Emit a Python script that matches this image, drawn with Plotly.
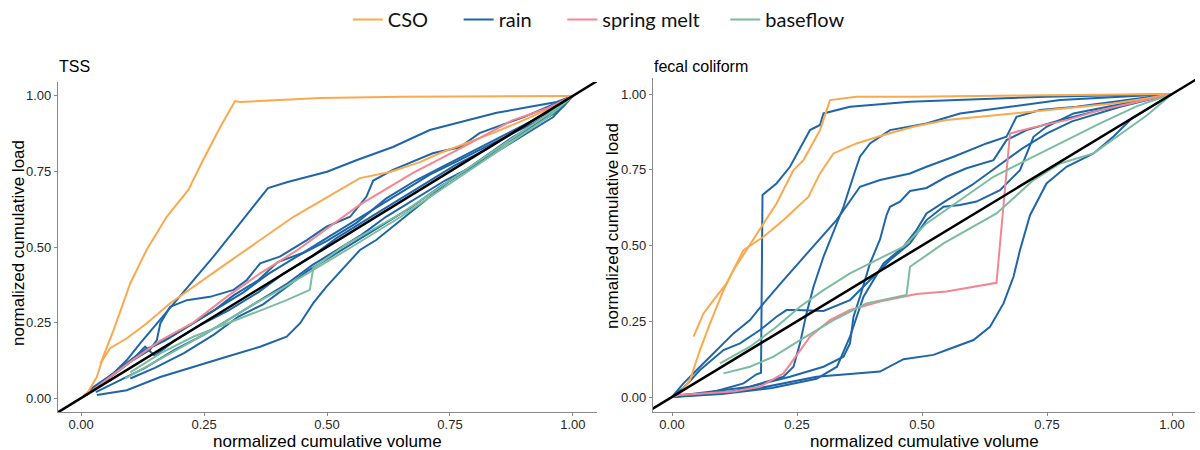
import plotly.graph_objects as go

# ---------------- colours ----------------
COL_CSO = "#FBA94F"
COL_RAIN = "#1F66A8"
COL_MELT = "#F3868E"
COL_BASE = "#7BBC9F"

# legend labels (non-breaking spaces only widen the legend entries)
NBSP = "\u00a0"
LEG_CSO = "CSO" + NBSP * 5
LEG_RAIN = "rain" + NBSP * 5
LEG_MELT = "spring melt" + NBSP * 4
LEG_BASE = "baseflow"

# ---------------- TSS panel (left) ----------------
TSS_CSO_A_X = [0.005, 0.014, 0.032, 0.045, 0.066, 0.10, 0.133, 0.174, 0.218, 0.248, 0.283, 0.313, 0.323, 0.486, 0.65, 1.0]
TSS_CSO_A_Y = [0.01, 0.02, 0.07, 0.137, 0.225, 0.38, 0.49, 0.60, 0.689, 0.788, 0.897, 0.983, 0.98, 0.993, 0.997, 1.0]
TSS_CSO_B_X = [0.039, 0.059, 0.093, 0.133, 0.181, 0.228, 0.296, 0.364, 0.432, 0.526, 0.567, 0.628, 0.689, 0.73, 0.785, 0.837, 0.892, 0.947, 0.988, 1.0]
TSS_CSO_B_Y = [0.115, 0.165, 0.198, 0.247, 0.314, 0.369, 0.446, 0.523, 0.60, 0.689, 0.728, 0.748, 0.781, 0.811, 0.844, 0.877, 0.914, 0.954, 0.987, 1.0]

TSS_RAIN_1_X = [0.005, 0.025, 0.066, 0.093, 0.12, 0.154, 0.188, 0.228, 0.269, 0.323, 0.38, 0.42, 0.5, 0.561, 0.634, 0.709, 0.785, 0.845, 0.913, 0.967, 1.0]
TSS_RAIN_1_Y = [0.005, 0.037, 0.082, 0.126, 0.181, 0.247, 0.314, 0.391, 0.468, 0.578, 0.695, 0.715, 0.749, 0.788, 0.831, 0.887, 0.92, 0.944, 0.964, 0.98, 1.0]
TSS_RAIN_2_X = [0.005, 0.05, 0.10, 0.14, 0.154, 0.161, 0.181, 0.215, 0.262, 0.31, 0.337, 0.364, 0.404, 0.459, 0.499, 0.547, 0.58, 0.594, 0.634, 0.715, 0.77, 0.81, 0.9, 1.0]
TSS_RAIN_2_Y = [0.005, 0.06, 0.12, 0.16, 0.192, 0.247, 0.302, 0.324, 0.335, 0.358, 0.391, 0.446, 0.468, 0.523, 0.567, 0.60, 0.666, 0.72, 0.755, 0.81, 0.83, 0.877, 0.93, 1.0]
TSS_RAIN_3_X = [0.032, 0.093, 0.161, 0.228, 0.296, 0.364, 0.418, 0.445, 0.472, 0.499, 0.54, 0.567, 0.60, 0.675, 0.744, 0.811, 0.878, 0.947, 0.98, 1.0]
TSS_RAIN_3_Y = [0.01, 0.026, 0.07, 0.104, 0.137, 0.17, 0.203, 0.247, 0.314, 0.369, 0.44, 0.49, 0.523, 0.623, 0.712, 0.788, 0.864, 0.93, 0.964, 1.0]
TSS_RAIN_4_X = [0.01, 0.04, 0.08, 0.12, 0.17, 0.22, 0.27, 0.31, 0.36, 0.40, 0.45, 0.50, 0.55, 0.60, 0.66, 0.71, 0.76, 0.82, 0.87, 0.92, 0.96, 1.0]
TSS_RAIN_4_Y = [0.01, 0.05, 0.10, 0.15, 0.19, 0.24, 0.29, 0.34, 0.39, 0.45, 0.48, 0.53, 0.58, 0.63, 0.69, 0.74, 0.78, 0.83, 0.87, 0.91, 0.95, 1.0]
TSS_RAIN_5_X = [0.02, 0.06, 0.10, 0.13, 0.15, 0.19, 0.24, 0.30, 0.36, 0.41, 0.47, 0.52, 0.58, 0.64, 0.70, 0.76, 0.82, 0.88, 0.93, 0.97, 1.0]
TSS_RAIN_5_Y = [0.02, 0.07, 0.12, 0.17, 0.14, 0.19, 0.24, 0.29, 0.35, 0.41, 0.47, 0.53, 0.59, 0.65, 0.71, 0.77, 0.82, 0.88, 0.93, 0.96, 1.0]
TSS_RAIN_6_X = [0.03, 0.08, 0.13, 0.19, 0.25, 0.31, 0.37, 0.42, 0.47, 0.52, 0.57, 0.62, 0.68, 0.74, 0.80, 0.86, 0.91, 0.96, 1.0]
TSS_RAIN_6_Y = [0.02, 0.06, 0.10, 0.16, 0.21, 0.27, 0.33, 0.38, 0.44, 0.49, 0.54, 0.60, 0.66, 0.72, 0.77, 0.84, 0.89, 0.94, 1.0]
TSS_RAIN_7_X = [0.10, 0.15, 0.21, 0.27, 0.32, 0.37, 0.42, 0.46, 0.50, 0.55, 0.61, 0.67, 0.73, 0.79, 0.85, 0.91, 0.96, 1.0]
TSS_RAIN_7_Y = [0.065, 0.10, 0.15, 0.21, 0.27, 0.31, 0.37, 0.42, 0.46, 0.51, 0.57, 0.63, 0.70, 0.76, 0.82, 0.88, 0.93, 1.0]
TSS_RAIN_8_X = [0.02, 0.05, 0.09, 0.13, 0.18, 0.23, 0.28, 0.33, 0.38, 0.44, 0.50, 0.56, 0.62, 0.68, 0.74, 0.80, 0.86, 0.92, 0.97, 1.0]
TSS_RAIN_8_Y = [0.02, 0.06, 0.11, 0.16, 0.20, 0.25, 0.30, 0.35, 0.41, 0.47, 0.52, 0.58, 0.66, 0.72, 0.77, 0.82, 0.87, 0.92, 0.97, 1.0]

TSS_MELT_X = [0.01, 0.05, 0.10, 0.161, 0.228, 0.296, 0.364, 0.44, 0.50, 0.567, 0.675, 0.777, 0.878, 0.95, 1.0]
TSS_MELT_Y = [0.01, 0.06, 0.12, 0.19, 0.25, 0.335, 0.413, 0.49, 0.56, 0.64, 0.745, 0.831, 0.92, 0.96, 1.0]

TSS_BASE_A_X = [0.10, 0.161, 0.228, 0.296, 0.364, 0.418, 0.465, 0.472, 0.54, 0.65, 0.75, 0.85, 0.95, 1.0]
TSS_BASE_A_Y = [0.085, 0.148, 0.203, 0.247, 0.291, 0.324, 0.358, 0.43, 0.51, 0.61, 0.72, 0.83, 0.94, 1.0]
TSS_BASE_B_X = [0.09, 0.15, 0.20, 0.25, 0.30, 0.35, 0.404, 0.472, 0.55, 0.65, 0.75, 0.85, 0.95, 1.0]
TSS_BASE_B_Y = [0.065, 0.12, 0.165, 0.21, 0.26, 0.31, 0.358, 0.424, 0.50, 0.60, 0.71, 0.82, 0.93, 1.0]

# ---------------- fecal coliform panel (right) ----------------
FC_CSO_A_X = [0.043, 0.063, 0.083, 0.109, 0.143, 0.183, 0.223, 0.273, 0.296, 0.323, 0.369, 0.423, 0.483, 0.549, 0.616, 0.683, 0.749, 0.816, 0.883, 0.949, 1.0]
FC_CSO_A_Y = [0.199, 0.276, 0.32, 0.375, 0.485, 0.529, 0.584, 0.661, 0.738, 0.804, 0.837, 0.865, 0.892, 0.914, 0.925, 0.936, 0.947, 0.958, 0.969, 0.985, 1.0]
FC_CSO_B_X = [0.0, 0.016, 0.036, 0.056, 0.076, 0.103, 0.123, 0.149, 0.176, 0.209, 0.243, 0.263, 0.296, 0.316, 0.369, 0.476, 0.70, 1.0]
FC_CSO_B_Y = [0.0, 0.012, 0.056, 0.155, 0.243, 0.353, 0.419, 0.485, 0.551, 0.639, 0.749, 0.782, 0.881, 0.98, 0.991, 0.991, 0.995, 1.0]

FC_RAIN_1_X = [0.0, 0.05, 0.089, 0.143, 0.169, 0.178, 0.181, 0.209, 0.236, 0.276, 0.296, 0.303, 0.356, 0.476, 0.749, 1.0]
FC_RAIN_1_Y = [0.0, 0.007, 0.02, 0.045, 0.075, 0.08, 0.667, 0.705, 0.76, 0.881, 0.898, 0.936, 0.958, 0.975, 0.991, 1.0]
FC_RAIN_2_X = [0.0, 0.023, 0.056, 0.089, 0.123, 0.156, 0.183, 0.223, 0.276, 0.329, 0.376, 0.416, 0.476, 0.509, 0.563, 0.629, 0.669, 0.689, 0.736, 0.809, 1.0]
FC_RAIN_2_Y = [0.0, 0.045, 0.10, 0.155, 0.21, 0.254, 0.309, 0.386, 0.485, 0.584, 0.694, 0.716, 0.738, 0.76, 0.793, 0.837, 0.859, 0.925, 0.947, 0.958, 1.0]
FC_RAIN_3_X = [0.0, 0.016, 0.123, 0.176, 0.223, 0.243, 0.256, 0.269, 0.283, 0.303, 0.329, 0.343, 0.366, 0.376, 0.396, 0.436, 0.509, 0.576, 0.676, 0.776, 1.0]
FC_RAIN_3_Y = [0.0, 0.007, 0.018, 0.045, 0.067, 0.10, 0.177, 0.276, 0.364, 0.463, 0.573, 0.628, 0.745, 0.793, 0.837, 0.881, 0.903, 0.936, 0.958, 0.98, 1.0]
FC_RAIN_4_X = [0.0, 0.016, 0.156, 0.236, 0.303, 0.343, 0.356, 0.363, 0.376, 0.396, 0.416, 0.429, 0.436, 0.456, 0.476, 0.509, 0.549, 0.589, 0.643, 0.669, 0.709, 0.776, 0.856, 1.0]
FC_RAIN_4_Y = [0.0, 0.005, 0.034, 0.067, 0.10, 0.133, 0.177, 0.265, 0.331, 0.441, 0.52, 0.60, 0.628, 0.645, 0.68, 0.69, 0.727, 0.755, 0.782, 0.848, 0.881, 0.914, 0.947, 1.0]
FC_RAIN_5_X = [0.0, 0.023, 0.056, 0.103, 0.136, 0.176, 0.209, 0.229, 0.249, 0.303, 0.356, 0.396, 0.436, 0.476, 0.509, 0.543, 0.576, 0.609, 0.656, 0.696, 0.723, 0.749, 0.803, 1.0]
FC_RAIN_5_Y = [0.0, 0.03, 0.089, 0.155, 0.177, 0.221, 0.265, 0.287, 0.287, 0.284, 0.32, 0.386, 0.452, 0.507, 0.584, 0.628, 0.634, 0.645, 0.683, 0.749, 0.859, 0.892, 0.936, 1.0]
FC_RAIN_6_X = [0.0, 0.10, 0.20, 0.289, 0.33, 0.356, 0.383, 0.423, 0.463, 0.489, 0.509, 0.55, 0.60, 0.65, 0.70, 0.75, 0.80, 0.90, 1.0]
FC_RAIN_6_Y = [0.0, 0.01, 0.03, 0.06, 0.10, 0.199, 0.331, 0.441, 0.496, 0.551, 0.606, 0.65, 0.70, 0.76, 0.82, 0.87, 0.91, 0.96, 1.0]
FC_RAIN_7_X = [0.0, 0.156, 0.289, 0.416, 0.463, 0.523, 0.549, 0.603, 0.636, 0.663, 0.683, 0.696, 0.716, 0.749, 0.789, 0.843, 0.883, 0.92, 0.96, 1.0]
FC_RAIN_7_Y = [0.0, 0.023, 0.067, 0.084, 0.125, 0.139, 0.155, 0.188, 0.232, 0.309, 0.397, 0.485, 0.60, 0.705, 0.76, 0.804, 0.86, 0.92, 0.96, 1.0]

FC_MELT_X = [0.0, 0.016, 0.123, 0.176, 0.223, 0.256, 0.276, 0.316, 0.356, 0.416, 0.489, 0.549, 0.649, 0.676, 0.723, 0.789, 0.856, 0.916, 1.0]
FC_MELT_Y = [0.0, 0.007, 0.018, 0.034, 0.078, 0.155, 0.199, 0.254, 0.287, 0.315, 0.34, 0.348, 0.377, 0.87, 0.89, 0.914, 0.947, 0.969, 1.0]

FC_BASE_A_X = [0.096, 0.156, 0.209, 0.256, 0.303, 0.356, 0.409, 0.463, 0.509, 0.576, 0.643, 0.709, 0.776, 0.856, 0.93, 1.0]
FC_BASE_A_Y = [0.111, 0.166, 0.232, 0.298, 0.353, 0.408, 0.452, 0.496, 0.573, 0.65, 0.727, 0.782, 0.837, 0.903, 0.96, 1.0]
FC_BASE_B_X = [0.103, 0.156, 0.203, 0.256, 0.323, 0.389, 0.469, 0.476, 0.543, 0.589, 0.649, 0.723, 0.776, 0.843, 0.90, 0.95, 1.0]
FC_BASE_B_Y = [0.078, 0.10, 0.133, 0.188, 0.254, 0.309, 0.337, 0.43, 0.507, 0.551, 0.606, 0.716, 0.771, 0.804, 0.87, 0.93, 1.0]

# 1:1 reference line
REF_X = [-0.2, 1.2]
REF_Y = [-0.2, 1.2]

TSS_RAIN = [(TSS_RAIN_1_X, TSS_RAIN_1_Y), (TSS_RAIN_2_X, TSS_RAIN_2_Y), (TSS_RAIN_3_X, TSS_RAIN_3_Y),
            (TSS_RAIN_4_X, TSS_RAIN_4_Y), (TSS_RAIN_5_X, TSS_RAIN_5_Y), (TSS_RAIN_6_X, TSS_RAIN_6_Y),
            (TSS_RAIN_7_X, TSS_RAIN_7_Y), (TSS_RAIN_8_X, TSS_RAIN_8_Y)]
FC_RAIN = [(FC_RAIN_1_X, FC_RAIN_1_Y), (FC_RAIN_2_X, FC_RAIN_2_Y), (FC_RAIN_3_X, FC_RAIN_3_Y),
           (FC_RAIN_4_X, FC_RAIN_4_Y), (FC_RAIN_5_X, FC_RAIN_5_Y), (FC_RAIN_6_X, FC_RAIN_6_Y),
           (FC_RAIN_7_X, FC_RAIN_7_Y)]

panels = [
    dict(xa="x", ya="y",
         rain=TSS_RAIN,
         cso=[(TSS_CSO_A_X, TSS_CSO_A_Y), (TSS_CSO_B_X, TSS_CSO_B_Y)],
         melt=[(TSS_MELT_X, TSS_MELT_Y)],
         base=[(TSS_BASE_A_X, TSS_BASE_A_Y), (TSS_BASE_B_X, TSS_BASE_B_Y)]),
    dict(xa="x2", ya="y2",
         rain=FC_RAIN,
         cso=[(FC_CSO_A_X, FC_CSO_A_Y), (FC_CSO_B_X, FC_CSO_B_Y)],
         melt=[(FC_MELT_X, FC_MELT_Y)],
         base=[(FC_BASE_A_X, FC_BASE_A_Y), (FC_BASE_B_X, FC_BASE_B_Y)]),
]

fig = go.Figure()
shown = set()
LW = 2.0


def add(xs, ys, name, color, xa, ya, rank):
    fig.add_trace(go.Scatter(
        x=xs, y=ys, mode="lines", name=name, legendgroup=name,
        showlegend=name not in shown, legendrank=rank,
        line=dict(color=color, width=LW), xaxis=xa, yaxis=ya, hoverinfo="skip"))
    shown.add(name)


for p in panels:
    for xs, ys in p["rain"]:
        add(xs, ys, LEG_RAIN, COL_RAIN, p["xa"], p["ya"], 2)
    for xs, ys in p["cso"]:
        add(xs, ys, LEG_CSO, COL_CSO, p["xa"], p["ya"], 1)
    for xs, ys in p["melt"]:
        add(xs, ys, LEG_MELT, COL_MELT, p["xa"], p["ya"], 3)
    for xs, ys in p["base"]:
        add(xs, ys, LEG_BASE, COL_BASE, p["xa"], p["ya"], 4)
    fig.add_trace(go.Scatter(x=REF_X, y=REF_Y, mode="lines", showlegend=False,
                             line=dict(color="black", width=2.5),
                             xaxis=p["xa"], yaxis=p["ya"], hoverinfo="skip"))

TICKS = [0, 0.25, 0.5, 0.75, 1.0]
TICK_TEXT = ["0.00", "0.25", "0.50", "0.75", "1.00"]
AX_COL = "#8a8a8a"
tickfont = dict(family="Liberation Sans, Arial, sans-serif", size=13, color="#262626")
common = dict(showgrid=False, zeroline=False, showline=True, linecolor=AX_COL, linewidth=1.3,
              ticks="outside", ticklen=3, tickcolor=AX_COL, tickwidth=1,
              tickvals=TICKS, ticktext=TICK_TEXT, tickfont=tickfont, automargin=False)
xcommon = dict(common, ticklabelstandoff=-3)

fig.update_layout(
    width=1200, height=450,
    margin=dict(l=0, r=0, t=0, b=0),
    paper_bgcolor="white", plot_bgcolor="white",
    xaxis=dict(domain=[58 / 1200, 597 / 1200], range=[-0.047, 1.049], anchor="y", **xcommon),
    yaxis=dict(domain=[1 - 412 / 450, 1 - 82 / 450], range=[-0.046, 1.046], anchor="x", **common),
    xaxis2=dict(domain=[653 / 1200, 1195 / 1200], range=[-0.038, 1.046], anchor="y2", **xcommon),
    yaxis2=dict(domain=[1 - 412 / 450, 1 - 78 / 450], range=[-0.0495, 1.053], anchor="x2", **common),
    legend=dict(orientation="h", x=0.499, xanchor="center", y=1.0, yanchor="top",
                font=dict(family="Lato, Open Sans, sans-serif", size=20, color="#111"),
                itemwidth=30, traceorder="normal", bgcolor="rgba(0,0,0,0)"),
    showlegend=True,
)

title_font = dict(family="Liberation Sans, Arial, sans-serif", size=17, color="black")
ann = [
    dict(text="normalized cumulative volume", x=327.5 / 1200, y=1 - 441 / 450),
    dict(text="normalized cumulative volume", x=924 / 1200, y=1 - 441 / 450),
    dict(text="normalized cumulative load", x=18 / 1200, y=1 - 243 / 450, textangle=-90),
    dict(text="normalized cumulative load", x=612 / 1200, y=1 - 226 / 450, textangle=-90),
]
for a in ann:
    fig.add_annotation(xref="paper", yref="paper", showarrow=False, xanchor="center", yanchor="middle",
                       font=title_font, **a)

for txt, x, y in [("TSS", 57, 67), ("fecal coliform", 652, 66)]:
    fig.add_annotation(text=txt, xref="paper", yref="paper", x=x / 1200, y=1 - y / 450,
                       xanchor="left", yanchor="middle", showarrow=False,
                       font=dict(family="Liberation Sans, Arial, sans-serif", size=16, color="black"))

fig.write_html("out.html")
